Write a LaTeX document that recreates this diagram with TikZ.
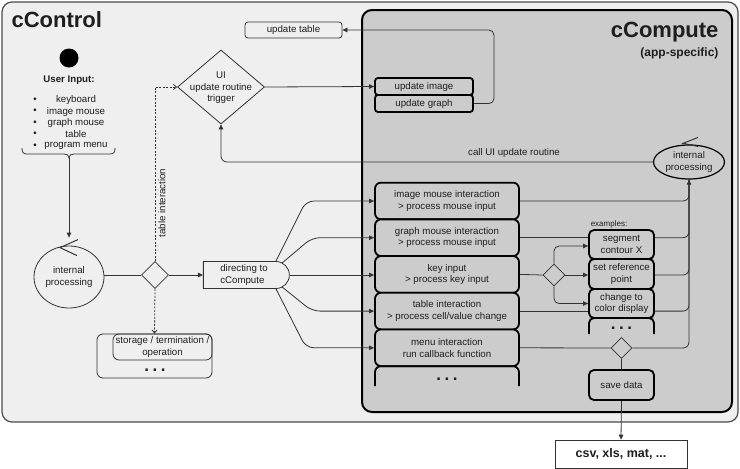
\documentclass[tikz,border=0pt]{standalone}
\usepackage{fontspec}
\setmainfont{Liberation Sans}
\usetikzlibrary{shapes.geometric,shapes.misc,arrows.meta,calc}
\definecolor{bgc}{HTML}{EFEFEF}
\definecolor{cc}{HTML}{CCCCCC}
\definecolor{ln}{HTML}{333333}
\definecolor{tx}{HTML}{1E1E1E}
\begin{document}
\begin{tikzpicture}[x=1pt,y=-1pt,
  every node/.style={font=\fontsize{9.7}{11.5}\selectfont, text=tx},
  tip/.style={-{Triangle[length=5pt,width=4.5pt]}},
  dtip/.style={-{Straight Barb[length=3pt,width=5pt]}},
  conn/.style={draw=ln, line width=0.8pt},
  dshd/.style={dash pattern=on 2pt off 1.5pt},
  rowbox/.style={draw=black, line width=1.8pt, rounded corners=6pt, fill=cc, minimum width=144pt, minimum height=36.7pt, align=center, inner sep=0pt},
  exbox/.style={draw=black, line width=1.8pt, rounded corners=5pt, fill=cc, minimum width=65pt, align=center, inner sep=0pt},
  upbox/.style={draw=black, line width=1.8pt, rounded corners=3pt, fill=cc, minimum width=98pt, minimum height=17pt, inner sep=0pt},
  thinbox/.style={draw=ln, line width=0.8pt, rounded corners=3pt, align=center, inner sep=0pt},
  dia/.style={diamond, draw=ln, line width=0.8pt, inner sep=0pt},
  dots/.style={font=\fontsize{17}{17}\selectfont\bfseries},
]
\useasboundingbox (0,0) rectangle (740,469);
% containers
\draw[draw=black!70, line width=1.2pt, fill=bgc, rounded corners=10pt] (2,2) rectangle (738,422);
\draw[draw=black, line width=2pt, fill=cc, rounded corners=10pt] (362,10) rectangle (732,412);
\node[anchor=base west, font=\fontsize{22}{24}\selectfont\bfseries] (tctrl) at (8,27) {cControl};
\node[anchor=base east, font=\fontsize{22}{24}\selectfont\bfseries] (tcomp) at (722,37) {cCompute};
\node[anchor=base east, font=\fontsize{12}{14}\selectfont\bfseries] (tapp) at (722,56) {(app-specific)};

% user input
\node[circle, fill=black, minimum size=19pt, inner sep=0pt] (start) at (69,58) {};
\node[font=\fontsize{9.7}{11.5}\selectfont\bfseries] (uin) at (69,80) {User Input:};
\node (b1) at (35,100) {•}; \node (i1) at (76,100) {keyboard};
\node (b2) at (35,111.5) {•}; \node (i2) at (76,111.5) {image mouse};
\node (b3) at (35,123) {•}; \node (i3) at (76,123) {graph mouse};
\node (b4) at (35,134.5) {•}; \node (i4) at (76,134.5) {table};
\node (b5) at (35,146) {•}; \node (i5) at (76,146) {program menu};
\draw[conn] (22,148) .. controls (22,152) and (23,154) .. (27,154) -- (64,154)
  .. controls (67,154) and (69,155) .. (69,158) .. controls (69,155) and (71,154) .. (74,154)
  -- (110,154) .. controls (114,154) and (115,152) .. (115,148);
\coordinate (bt) at (69,158);

% left processing
\node[ellipse, draw=ln, line width=0.8pt, minimum width=70pt, minimum height=62pt, inner sep=0pt, align=center] (le) at (69,277) {internal\\processing};
\draw[conn, line width=1pt] ($(le.north)+(9,-6)$) -- ($(le.north)+(-9,2)$) -- ($(le.north)+(8,10)$);
\draw[conn, tip] (bt) -- ([yshift=8pt]le.north);

\node[dia, minimum width=27pt, minimum height=27pt] (d1) at (155,275) {};
\node[rounded rectangle, rounded rectangle west arc=none, draw=ln, line width=0.8pt, minimum width=86pt, minimum height=27pt, inner sep=0pt, align=left] (dir) at (244,275) {directing to\\cCompute};
\draw[conn] (le.east |- d1.west) -- (d1.west);
\draw[conn, tip] (d1.east) -- (dir.west);

% UI trigger
\node[dia, minimum width=87pt, minimum height=74pt] (ui) at (221,87) {};
\node[align=center] (uit) at (221,88) {UI\\update routine\\trigger};
\draw[conn, dshd, dtip] (d1.north) |- (ui.west);
\node[rotate=90] (tint) at (162,203) {table interaction};

% storage
\node[thinbox, rounded corners=6pt, minimum width=115pt, minimum height=44pt] (st) at (154.5,356) {};
\node[thinbox, rounded corners=6pt, minimum width=99pt, minimum height=26pt] (sti) at (162.5,347) {storage / termination /\\operation};
\node[dots] (std) at (155,370) {.\hspace{3.5pt}.\hspace{3.5pt}.};
\draw[conn, dshd, dtip] (d1.south) -- (st.north);

% update boxes
\node[thinbox, minimum width=97pt, minimum height=16pt] (ut) at (293.5,30) {update table};
\node[upbox] (uimg) at (424,86.5) {update image};
\node[upbox] (ugr) at (424,103.5) {update graph};
\coordinate (ucorner) at (494,30);
\draw[conn, tip] (ui.east) -- (uimg.west);
\draw[conn, tip, rounded corners=5pt] (ugr.east) -| (ucorner) -- (ut.east);

% right processing
\node[ellipse, draw=black, line width=1.2pt, minimum width=71pt, minimum height=34pt, inner sep=0pt, align=center] (re) at (689,162) {internal\\processing};
\draw[conn, line width=1pt] ($(re.north)+(9,-7)$) -- ($(re.north)+(-6,-1)$) -- ($(re.north)+(9,2)$);
\draw[conn, tip, rounded corners=6pt] (re.west) -| (ui.south);
\node (cul) at (514,153) {call UI update routine};

% rows
\node[rowbox] (r1) at (447,201) {image mouse interaction\\> process mouse input};
\node[rowbox] (r2) at (447,237.7) {graph mouse interaction\\> process mouse input};
\node[rowbox] (r3) at (447,274.4) {key input\\> process key input};
\node[rowbox] (r4) at (447,311.1) {table interaction\\> process cell/value change};
\node[rowbox] (r5) at (447,347.8) {menu interaction\\run callback function};
\draw[black, line width=1.8pt, rounded corners=6pt] (375,386) -- (375,366.2) -- (519,366.2) -- (519,386);
\node[dots] (rd) at (447,379) {.\hspace{3.5pt}.\hspace{3.5pt}.};

\draw[conn, tip, rounded corners=8pt] ([xshift=32pt]dir.north) -- (306,201) -- (r1.west);
\draw[conn, tip, rounded corners=8pt] ([xshift=38pt,yshift=-2pt]dir.north) -- (312,237.7) -- (r2.west);
\draw[conn, tip] (dir.east) -- (dir.east -| r3.west);
\draw[conn, tip, rounded corners=8pt] ([xshift=38pt,yshift=2pt]dir.south) -- (312,311.1) -- (r4.west);
\draw[conn, tip, rounded corners=8pt] ([xshift=32pt]dir.south) -- (306,347.8) -- (r5.west);

% examples
\node[font=\fontsize{8}{9}\selectfont] (ex) at (609,224) {examples:};
\node[exbox, minimum height=29pt] (seg) at (621.5,244.5) {segment\\contour X};
\node[exbox, minimum height=30pt] (sr) at (621.5,274) {set reference\\point};
\node[exbox, minimum height=29pt] (col) at (621.5,303.5) {change to\\color display};
\draw[black, line width=1.8pt, rounded corners=5pt] (589,334) -- (589,318) -- (654,318) -- (654,334);
\node[dots] (exd) at (621.5,328) {.\hspace{3.5pt}.\hspace{3.5pt}.};
\node[dia, minimum width=22pt, minimum height=22pt] (d2) at (554,275) {};
\node[dia, minimum width=21pt, minimum height=21pt] (d3) at (621.5,348) {};
\node[exbox, minimum height=30pt] (save) at (621.5,385) {save data};
\node[draw=ln, line width=0.8pt, fill=white, minimum width=132pt, minimum height=28pt, font=\fontsize{12.5}{14}\selectfont\bfseries] (csv) at (621,454) {csv, xls, mat, ...};

% merges
\draw[conn, rounded corners=6pt] (r1.east) -| (re.south);
\draw[conn] (r2.east) -- (seg.west |- r2.east);
\draw[conn, rounded corners=6pt] (seg.east |- r2.east) -| (re.south);
\draw[conn] (r3.east) -- (d2.west);
\draw[conn, tip] (d2.east) -- (sr.west |- d2.east);
\draw[conn, tip, rounded corners=5pt] (d2.north) |- ([yshift=-1.5pt]seg.west);
\draw[conn, tip, rounded corners=5pt] (d2.south) |- (col.west);
\draw[conn, rounded corners=6pt] (sr.east |- d2.east) -| (re.south);
\draw[conn] (r4.east) -- (col.west |- r4.east);
\draw[conn, rounded corners=6pt] (col.east |- r4.east) -| (re.south);
\draw[conn] (r5.east) -- (d3.west);
\draw[conn, tip, rounded corners=6pt] (d3.east) -| (re.south);
\draw[conn] (d3.south) -- (save.north);
\draw[conn, tip] (save.south) -- (csv.north);
\end{tikzpicture}
\end{document}
